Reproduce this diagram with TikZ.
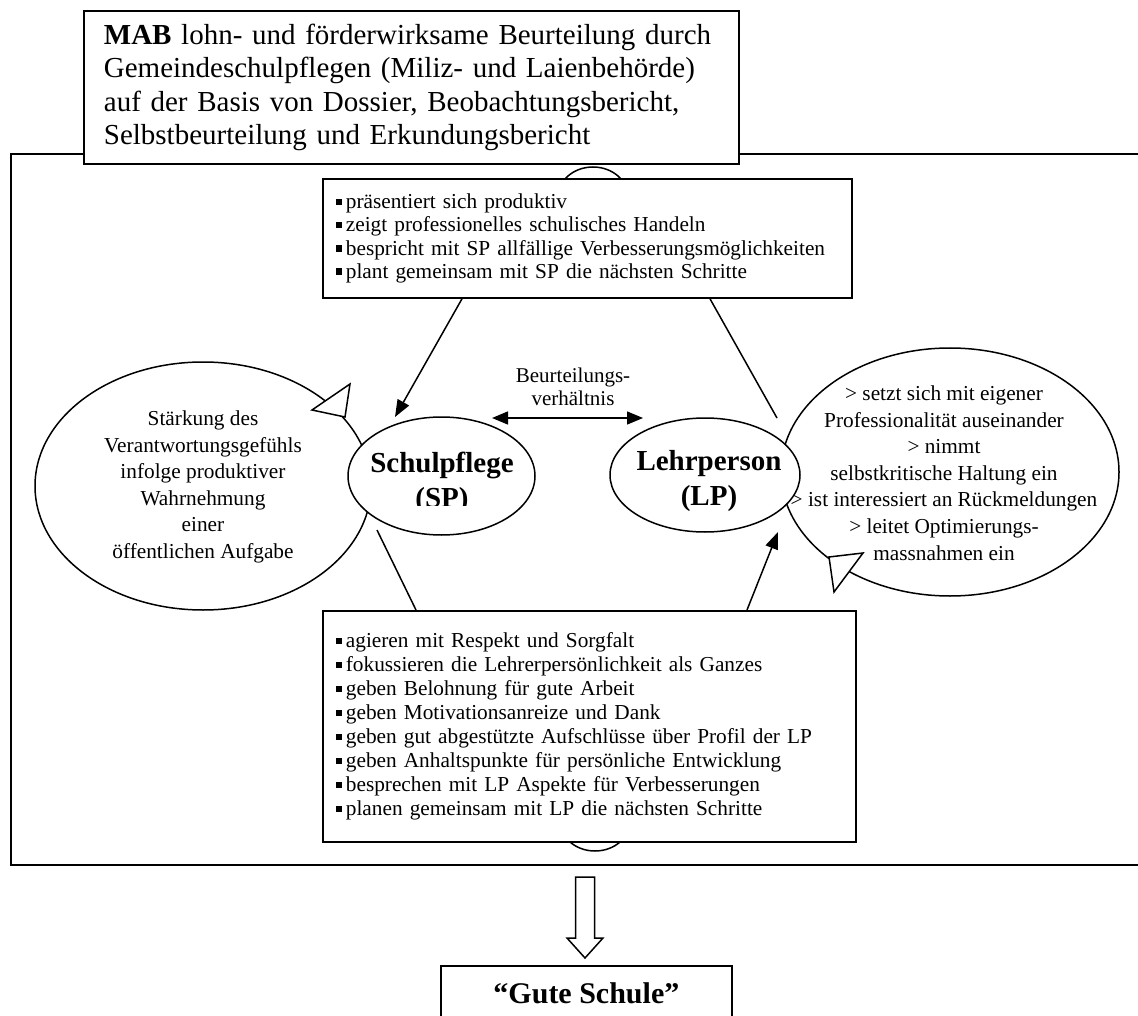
\documentclass[tikz,border=0pt]{standalone}
\usepackage{fontspec}
\setmainfont{Liberation Serif}
\usetikzlibrary{shapes.geometric,arrows.meta,calc}
\newcommand\blt{\rule[3.5pt]{6pt}{6.5pt}\hspace{4pt}}
\begin{document}
\begin{tikzpicture}[x=1pt,y=-1pt,
  box/.style={draw, line width=1.8pt, fill=white, inner sep=0pt},
  oval/.style={ellipse, draw, line width=1.5pt, fill=white, inner sep=0pt},
  conn/.style={line width=1.5pt},
  tipend/.style={-{Triangle[length=17pt,width=13pt]}},
  bothtips/.style={{Triangle[length=16pt,width=13pt]}-{Triangle[length=16pt,width=13pt]}},
  opentri/.style={draw, line width=1.5pt, fill=white, line join=miter},
  txt/.style={font={\fontsize{21.3}{26.6}\selectfont}, align=center, inner sep=0pt},
  blist/.style={font={\fontsize{21.3}{23.3}\selectfont}, align=left, inner sep=0pt},
  bigbold/.style={font={\fontsize{29}{35}\selectfont\bfseries}, align=center, inner sep=0pt},
]
\useasboundingbox (0,0) rectangle (1138,1016);
\clip (0,0) rectangle (1138,1016);

% outer frame
\node[draw, line width=1.8pt, anchor=north west, minimum width=1160pt, minimum height=711pt, inner sep=0pt] (frame) at (10,153) {};

% small ellipses peeking behind the bullet boxes
\node[oval, minimum width=70pt, minimum height=60pt] (topcap) at (593,197) {};
\node[oval, minimum width=70pt, minimum height=60pt] (botcap) at (595,821) {};

% big side ellipses (loops)
\node[oval, minimum width=336pt, minimum height=248pt] (lell) at (203,486) {};
\node[oval, minimum width=338pt, minimum height=248pt] (rell) at (950,472) {};
\draw[opentri] (350,384) -- (345,417) -- (312,410) -- cycle;
\draw[opentri] (829,557) -- (863,553) -- (834,592) -- cycle;

\node[txt] (lelltext) at (203,487) {Stärkung des\\Verantwortungsgefühls\\infolge produktiver\\Wahrnehmung\\einer\\öffentlichen Aufgabe};
\node[txt] (relltext) at (944,473) {> setzt sich mit eigener\\Professionalität auseinander\\> nimmt\\selbstkritische Haltung ein\\> ist interessiert an Rückmeldungen\\> leitet Optimierungs-\\massnahmen ein};

% bullet boxes
\node[box, blist, anchor=north west, minimum width=529pt, minimum height=119pt, text width=503pt, inner xsep=13pt] (actions) at (322,178)
  {\blt präsentiert sich produktiv\\\blt zeigt professionelles schulisches Handeln\\\blt bespricht mit SP allfällige Verbesserungsmöglichkeiten\\\blt plant gemeinsam mit SP die nächsten Schritte};
\node[box, blist, font={\fontsize{21.3}{24}\selectfont}, anchor=north west, minimum width=533pt, minimum height=231pt, text width=507pt, inner xsep=13pt] (duties) at (322,610)
  {\blt agieren mit Respekt und Sorgfalt\\\blt fokussieren die Lehrerpersönlichkeit als Ganzes\\\blt geben Belohnung für gute Arbeit\\\blt geben Motivationsanreize und Dank\\\blt geben gut abgestützte Aufschlüsse über Profil der LP\\\blt geben Anhaltspunkte für persönliche Entwicklung\\\blt besprechen mit LP Aspekte für Verbesserungen\\\blt planen gemeinsam mit LP die nächsten Schritte};

% persons
\node[oval, minimum width=187pt, minimum height=118pt] (sp) at (441.5,476) {};
\node[oval, minimum width=190pt, minimum height=114pt] (lp) at (705,475) {};
\begin{scope}
  \clip (340,405) rectangle (545,505);
  \node[bigbold] (sptext) at (442,482.5) {Schulpflege\\(SP)};
\end{scope}
\node[bigbold] (lptext) at (709,481.5) {Lehrperson\\(LP)};

% connectors
\coordinate (sptip) at (395,417);
\coordinate (lpend) at (777,418);
\coordinate (spfoot) at (377,530);
\coordinate (lptip) at (778,532);
\coordinate (dl) at (492,418);
\coordinate (dr) at (643,418);
\draw[conn, tipend] ([xshift=140pt]actions.south west) -- (sptip);
\draw[conn] ([xshift=388pt]actions.south west) -- (lpend);
\draw[conn] (spfoot) -- ([xshift=94pt]duties.north west);
\draw[conn, tipend] ([xshift=425pt]duties.north west) -- (lptip);
\draw[conn, bothtips] (dl) -- (dr);
\node[txt, font={\fontsize{21}{23}\selectfont}] (rel) at (573,387) {Beurteilungs-\\verhältnis};

% title box
\node[box, anchor=north west, minimum width=655pt, minimum height=153pt, text width=615pt, align=left, inner xsep=20pt, font={\fontsize{29}{33.5}\selectfont}] (mab) at (83,10)
  {\textbf{MAB} lohn- und förderwirksame Beurteilung durch\\Gemeindeschulpflegen (Miliz- und Laienbehörde)\\auf der Basis von Dossier, Beobachtungsbericht,\\Selbstbeurteilung und Erkundungsbericht};

% block arrow and result
\draw[line width=1.5pt, fill=white, line join=miter] (575.5,877) -- (594.5,877) -- (594.5,938) -- (603,938) -- (585,958) -- (567,938) -- (575.5,938) -- cycle;
\node[box, anchor=north west, minimum width=291pt, minimum height=66pt, font={\fontsize{30}{36}\selectfont\bfseries}, text height=20pt, text depth=10pt] (gute) at (440,965) {“Gute Schule”};
\end{tikzpicture}
\end{document}
